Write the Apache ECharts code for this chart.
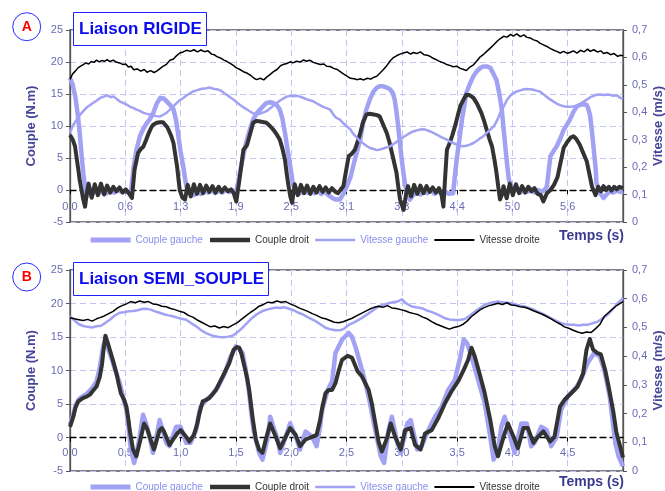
<!DOCTYPE html>
<html>
<head>
<meta charset="utf-8">
<script src="https://cdn.jsdelivr.net/npm/echarts@6/dist/echarts.min.js"></script>
<style>
html, body { margin: 0; padding: 0; background: #fff; }
#chart { width: 665px; height: 491px; }
</style>
</head>
<body>
<div id="chart"></div>
<script>
// séries : [temps (s), valeur]
var seriesNames = ['Couple gauche', 'Couple droit', 'Vitesse gauche', 'Vitesse droite'];
var titlesTxt = ['Liaison RIGIDE', 'Liaison SEMI_SOUPLE'];
var timeMaxA = 6.25, timeStepA = 0.625;
var timeMaxB = 5, timeStepB = 0.5;

// --- Liaison RIGIDE ---
var coupleGaucheA = [[0,17.5],[0.03,16.5],[0.06,14.6],[0.09,11.5],[0.11,8.9],[0.13,5.5],[0.15,2.7],[0.17,0.5],[0.19,-1.0],[0.22,-0.3],[0.26,-0.6],[0.3,0.2],[0.34,-0.4],[0.38,0.1],[0.42,-0.5],[0.46,0],[0.5,-0.4],[0.54,0.1],[0.58,-0.3],[0.62,-0.1],[0.66,-0.4],[0.69,-0.2],[0.72,3.7],[0.75,6.2],[0.79,8.4],[0.83,9.6],[0.87,10.5],[0.9,11],[0.94,12],[0.98,13.5],[1.02,14.4],[1.06,14.3],[1.09,13.9],[1.13,13.3],[1.17,12.6],[1.2,10.8],[1.22,8.9],[1.25,6],[1.28,3.7],[1.3,1.8],[1.32,0.3],[1.36,-0.5],[1.4,-0.8],[1.44,-0.2],[1.48,-0.6],[1.52,0.1],[1.56,-0.4],[1.6,0],[1.64,-0.5],[1.68,-0.1],[1.72,-0.4],[1.76,0],[1.8,-0.3],[1.84,-0.1],[1.88,-0.2],[1.92,2.7],[1.96,5.5],[2.0,7.9],[2.04,9.8],[2.07,11],[2.11,12],[2.15,12.6],[2.19,13.2],[2.22,13.6],[2.26,13.7],[2.3,13.6],[2.34,13.2],[2.37,12.6],[2.4,11.2],[2.43,8.9],[2.46,6.2],[2.49,3.7],[2.52,0.8],[2.56,-0.3],[2.6,-0.5],[2.64,0.2],[2.68,-0.4],[2.72,0],[2.76,-0.5],[2.8,-0.1],[2.84,-0.6],[2.88,-0.2],[2.92,-0.8],[2.96,-1.2],[3.0,-1.5],[3.05,-1.5],[3.09,-0.6],[3.13,0.6],[3.17,2.0],[3.2,3.7],[3.24,5.8],[3.28,7.9],[3.31,10.3],[3.35,12.6],[3.39,14.2],[3.43,15.4],[3.47,16],[3.5,16.2],[3.54,16.2],[3.58,16],[3.62,15.7],[3.65,15.1],[3.67,14.1],[3.69,12.2],[3.71,9.9],[3.73,7.2],[3.75,4.7],[3.77,2.5],[3.79,0.6],[3.84,-1.5],[3.88,-0.8],[3.92,-0.2],[3.96,-0.7],[4.0,-0.1],[4.04,-0.5],[4.08,0],[4.12,-0.6],[4.16,-0.2],[4.2,-0.6],[4.24,-0.3],[4.28,-0.6],[4.33,-0.5],[4.35,2.2],[4.37,4.7],[4.4,7.8],[4.43,11],[4.46,13.4],[4.48,15.2],[4.52,16.6],[4.56,17.8],[4.6,18.6],[4.64,19.1],[4.67,19.3],[4.71,19.3],[4.75,19.1],[4.78,18.3],[4.82,17.2],[4.85,15.2],[4.88,12.6],[4.9,9.6],[4.92,6.8],[4.94,4.0],[4.96,1.6],[5.01,-0.2],[5.05,0.2],[5.09,-0.4],[5.13,0.1],[5.17,-0.3],[5.21,0.2],[5.25,-0.4],[5.29,0],[5.33,-0.3],[5.37,0.1],[5.39,0.6],[5.41,3],[5.43,5.3],[5.47,6.2],[5.5,6.8],[5.54,8],[5.58,9.4],[5.62,10.3],[5.65,11],[5.69,12.2],[5.73,13.1],[5.77,13.3],[5.81,13.4],[5.84,13.3],[5.86,12.6],[5.88,11.5],[5.9,9],[5.92,6.3],[5.94,3.5],[5.95,1.1],[5.99,-0.5],[6.03,-1.25],[6.07,-0.6],[6.1,-0.2],[6.14,-0.4],[6.18,-0.1],[6.22,-0.3],[6.25,-0.2]];

var coupleDroitA = [[0,8.6],[0.03,7.9],[0.057,6.8],[0.075,5],[0.094,3.2],[0.11,1.5],[0.13,0],[0.15,-1.5],[0.17,-2.6],[0.19,-0.5],[0.21,1.0],[0.245,-1.2],[0.28,0.9],[0.315,-0.8],[0.35,1.0],[0.385,-0.7],[0.42,0.7],[0.455,-0.4],[0.49,0.5],[0.525,-0.2],[0.56,0.4],[0.595,-0.4],[0.63,0.1],[0.67,-0.6],[0.7,-1.25],[0.73,3.2],[0.77,5.8],[0.8,6.4],[0.83,6.8],[0.86,7.8],[0.89,8.9],[0.92,9.8],[0.94,10.2],[0.98,10.5],[1.02,10.6],[1.05,10.6],[1.07,10.5],[1.1,9.8],[1.13,8.9],[1.15,8.2],[1.17,7.3],[1.19,5.5],[1.21,3.7],[1.24,0],[1.27,-1.2],[1.3,-1.5],[1.33,0.8],[1.365,-1.0],[1.4,0.9],[1.435,-0.6],[1.47,0.8],[1.505,-0.5],[1.54,0.7],[1.575,-0.3],[1.61,0.6],[1.645,-0.4],[1.68,0.5],[1.715,-0.3],[1.75,0.4],[1.785,-0.2],[1.82,0.1],[1.85,-0.5],[1.88,-1.8],[1.92,2.1],[1.96,6.3],[2.0,7],[2.02,7.3],[2.05,9.5],[2.07,10.5],[2.11,10.8],[2.15,10.7],[2.19,10.6],[2.22,10.5],[2.26,10],[2.3,9.4],[2.34,8.6],[2.37,7.9],[2.4,6.5],[2.43,4.7],[2.45,2.5],[2.47,0.6],[2.49,-1],[2.51,-2],[2.54,0.9],[2.575,-0.8],[2.61,0.8],[2.645,-0.5],[2.68,0.7],[2.715,-0.6],[2.75,0.5],[2.785,-0.4],[2.82,0.6],[2.855,-0.3],[2.89,0.4],[2.925,-0.4],[2.96,0.3],[3.0,-0.3],[3.03,-0.5],[3.06,0.1],[3.09,0.6],[3.12,3],[3.15,5.3],[3.18,5.6],[3.22,6.3],[3.25,7.5],[3.28,8.9],[3.31,10.5],[3.35,11.8],[3.39,11.9],[3.43,11.8],[3.47,11.7],[3.5,11.5],[3.54,10.2],[3.58,8.9],[3.61,7.5],[3.63,6.3],[3.66,4.5],[3.69,2.7],[3.71,0.5],[3.73,-1.5],[3.77,-3.1],[3.8,-0.5],[3.82,0.6],[3.855,-1.0],[3.89,0.8],[3.925,-0.6],[3.96,0.7],[3.995,-0.5],[4.03,0.6],[4.065,-0.3],[4.1,0.4],[4.135,-0.4],[4.17,0.3],[4.2,-0.8],[4.22,-2.6],[4.24,2],[4.26,6.3],[4.29,7.3],[4.32,8.5],[4.35,9.9],[4.38,11.5],[4.41,13.1],[4.45,14.2],[4.48,14.9],[4.52,14.8],[4.56,14.4],[4.6,13.5],[4.65,12],[4.68,10.8],[4.71,9.4],[4.74,8],[4.77,6.8],[4.8,4.5],[4.82,2.7],[4.84,0.5],[4.86,-1.5],[4.88,-0.8],[4.9,0.6],[4.935,-1.3],[4.97,1.0],[5.005,-0.8],[5.04,0.9],[5.075,-0.5],[5.11,0.6],[5.145,-0.4],[5.18,0.5],[5.215,-0.2],[5.25,0.3],[5.285,-0.6],[5.32,-0.8],[5.35,-1.8],[5.39,-0.5],[5.43,0],[5.47,0.8],[5.51,2],[5.54,4],[5.58,6.6],[5.62,7.5],[5.66,8.2],[5.69,8.4],[5.72,8],[5.76,7.1],[5.8,5.8],[5.84,4.5],[5.87,2.5],[5.9,0.5],[5.94,-0.8],[5.97,0.5],[6.0,-0.2],[6.03,0.6],[6.06,0],[6.09,0.5],[6.12,-0.1],[6.15,0.5],[6.18,0.1],[6.21,0.5],[6.25,0.3]];

var vitesseGaucheA = [[0,.324],[.03,.35],[.075,.373],[.11,.39],[.15,.404],[.19,.418],[.22,.425],[.26,.434],[.3,.442],[.34,.452],[.38,.457],[.42,.462],[.46,.455],[.49,.458],[.53,.448],[.56,.44],[.6,.434],[.64,.428],[.68,.42],[.72,.415],[.75,.41],[.79,.405],[.83,.398],[.86,.395],[.9,.392],[.94,.388],[.98,.386],[1.02,.385],[1.06,.392],[1.09,.398],[1.13,.41],[1.17,.422],[1.21,.435],[1.24,.444],[1.28,.452],[1.32,.462],[1.36,.47],[1.39,.476],[1.43,.48],[1.47,.484],[1.51,.487],[1.54,.488],[1.58,.49],[1.62,.486],[1.66,.484],[1.7,.48],[1.74,.47],[1.78,.462],[1.81,.455],[1.85,.446],[1.89,.435],[1.93,.425],[1.96,.418],[2,.41],[2.04,.402],[2.07,.396],[2.11,.392],[2.15,.395],[2.19,.4],[2.22,.404],[2.26,.414],[2.3,.425],[2.34,.434],[2.37,.442],[2.41,.45],[2.45,.457],[2.49,.46],[2.52,.458],[2.56,.46],[2.6,.457],[2.64,.452],[2.67,.448],[2.71,.444],[2.75,.44],[2.79,.432],[2.83,.425],[2.86,.42],[2.9,.415],[2.94,.41],[2.98,.39],[3.01,.38],[3.05,.373],[3.09,.36],[3.13,.348],[3.17,.337],[3.2,.322],[3.24,.308],[3.28,.294],[3.32,.285],[3.35,.278],[3.39,.27],[3.43,.266],[3.47,.262],[3.5,.264],[3.54,.268],[3.58,.272],[3.62,.276],[3.66,.285],[3.69,.292],[3.73,.3],[3.77,.31],[3.81,.318],[3.84,.324],[3.88,.33],[3.92,.334],[3.96,.337],[4,.338],[4.04,.334],[4.07,.33],[4.11,.324],[4.15,.318],[4.18,.312],[4.22,.306],[4.26,.3],[4.29,.294],[4.33,.288],[4.37,.282],[4.4,.278],[4.44,.276],[4.48,.278],[4.52,.282],[4.56,.288],[4.6,.296],[4.63,.304],[4.67,.312],[4.71,.325],[4.75,.337],[4.79,.349],[4.83,.372],[4.86,.397],[4.9,.42],[4.94,.446],[4.98,.462],[5.01,.47],[5.05,.476],[5.09,.48],[5.13,.484],[5.16,.485],[5.2,.484],[5.24,.482],[5.28,.478],[5.31,.476],[5.35,.466],[5.39,.456],[5.43,.446],[5.47,.438],[5.5,.432],[5.54,.426],[5.58,.422],[5.62,.42],[5.66,.42],[5.7,.422],[5.73,.422],[5.77,.432],[5.81,.44],[5.84,.446],[5.88,.455],[5.92,.46],[5.95,.464],[5.99,.465],[6.03,.463],[6.07,.465],[6.1,.464],[6.14,.46],[6.18,.462],[6.22,.452],[6.25,.45]];

var vitesseDroiteA = [[0,.52],[.03,.54],[.06,.55],[.09,.562],[.12,.568],[.15,.574],[.18,.58],[.21,.576],[.24,.585],[.27,.582],[.3,.59],[.33,.584],[.36,.589],[.39,.586],[.42,.592],[.45,.585],[.49,.59],[.52,.583],[.56,.58],[.6,.574],[.63,.576],[.66,.565],[.69,.568],[.72,.555],[.76,.558],[.8,.55],[.84,.556],[.87,.546],[.91,.552],[.95,.545],[.98,.55],[1.02,.56],[1.05,.567],[1.09,.575],[1.13,.59],[1.17,.594],[1.2,.605],[1.24,.616],[1.28,.62],[1.32,.626],[1.36,.622],[1.4,.628],[1.44,.62],[1.48,.627],[1.52,.621],[1.56,.624],[1.6,.612],[1.63,.61],[1.66,.603],[1.7,.598],[1.74,.59],[1.77,.586],[1.81,.578],[1.85,.57],[1.88,.562],[1.92,.556],[1.96,.548],[2,.543],[2.04,.535],[2.08,.524],[2.11,.519],[2.15,.524],[2.19,.518],[2.23,.53],[2.27,.54],[2.3,.548],[2.34,.556],[2.38,.57],[2.41,.574],[2.45,.578],[2.49,.584],[2.52,.58],[2.56,.586],[2.6,.583],[2.64,.591],[2.67,.586],[2.71,.59],[2.75,.582],[2.79,.578],[2.83,.574],[2.87,.576],[2.9,.568],[2.94,.567],[2.98,.56],[3.02,.556],[3.05,.549],[3.09,.54],[3.13,.532],[3.17,.524],[3.21,.522],[3.25,.519],[3.28,.522],[3.32,.518],[3.36,.524],[3.4,.521],[3.43,.527],[3.47,.532],[3.51,.545],[3.54,.555],[3.58,.57],[3.62,.588],[3.65,.598],[3.69,.606],[3.73,.612],[3.77,.616],[3.81,.62],[3.85,.612],[3.88,.618],[3.92,.614],[3.96,.62],[4,.61],[4.04,.608],[4.07,.604],[4.11,.596],[4.15,.59],[4.18,.585],[4.22,.58],[4.26,.574],[4.3,.57],[4.33,.566],[4.37,.568],[4.41,.56],[4.45,.556],[4.48,.552],[4.52,.565],[4.56,.573],[4.6,.588],[4.63,.6],[4.67,.61],[4.71,.622],[4.75,.634],[4.79,.646],[4.83,.66],[4.86,.668],[4.9,.677],[4.94,.674],[4.98,.684],[5.01,.678],[5.05,.686],[5.09,.676],[5.13,.682],[5.16,.674],[5.2,.671],[5.24,.664],[5.28,.66],[5.31,.652],[5.35,.646],[5.39,.64],[5.43,.632],[5.47,.626],[5.5,.622],[5.54,.616],[5.58,.622],[5.62,.615],[5.65,.618],[5.69,.624],[5.73,.616],[5.77,.626],[5.81,.62],[5.85,.63],[5.88,.622],[5.92,.628],[5.96,.62],[6,.624],[6.03,.614],[6.07,.618],[6.11,.61],[6.15,.614],[6.19,.604],[6.22,.608],[6.25,.606]];

// --- Liaison SEMI_SOUPLE ---
var coupleGaucheB = [[0,1.9],[0.03,3.4],[0.05,4.8],[0.075,5.6],[0.1,6],[0.12,6.2],[0.15,6.5],[0.18,7],[0.21,7.6],[0.24,8.4],[0.27,10.5],[0.3,13.6],[0.32,14.6],[0.35,13],[0.37,12.1],[0.41,10],[0.45,8.1],[0.48,6],[0.51,4.1],[0.53,1.5],[0.55,-1.8],[0.58,-3.8],[0.6,-2.5],[0.63,0.1],[0.66,3.4],[0.69,2],[0.72,0.1],[0.75,-2.3],[0.78,0],[0.81,2.6],[0.84,1],[0.87,-0.8],[0.9,-1.3],[0.93,0.2],[0.96,1.6],[1.0,1.6],[1.05,-0.8],[1.09,-0.8],[1.14,1.1],[1.16,3],[1.18,4.6],[1.23,5.6],[1.28,6.3],[1.34,7.6],[1.4,9.6],[1.45,12],[1.5,13.6],[1.53,13.3],[1.56,12.6],[1.59,10],[1.62,6.6],[1.64,3.5],[1.66,1.1],[1.71,-2.3],[1.74,-3.3],[1.79,0.1],[1.81,3.1],[1.85,1],[1.88,-0.3],[1.9,-2.3],[1.95,0.1],[1.99,2.1],[2.05,-0.3],[2.08,-1.8],[2.13,0.9],[2.19,0.1],[2.23,-1.3],[2.26,1.5],[2.28,4.1],[2.33,7.1],[2.37,8.4],[2.4,12.6],[2.46,14.6],[2.52,15.6],[2.55,15],[2.58,13.6],[2.64,10.1],[2.7,6.1],[2.76,1.1],[2.81,-2.8],[2.84,-3.8],[2.88,1.1],[2.91,3.1],[2.96,-0.8],[2.99,-2.3],[3.05,2.1],[3.08,2.6],[3.14,-1.8],[3.18,-1.3],[3.24,1.1],[3.3,3.1],[3.36,4.6],[3.42,7.1],[3.48,8.6],[3.53,12.1],[3.56,14.6],[3.59,14.1],[3.63,12.1],[3.69,8.6],[3.75,5.1],[3.8,0.1],[3.83,-3.3],[3.87,-1.8],[3.9,1.6],[3.93,3.1],[3.98,0.1],[4.02,-2.3],[4.08,2.1],[4.13,2.1],[4.17,-1.3],[4.2,-0.8],[4.26,1.6],[4.31,1.1],[4.35,-1.3],[4.4,0.1],[4.44,4.1],[4.5,6.1],[4.56,7.1],[4.62,8.6],[4.68,11.1],[4.74,12.6],[4.79,12.1],[4.83,10.1],[4.88,6.1],[4.93,-0.8],[4.96,-2.8],[5.0,-4.3]];

var coupleDroitB = [[0,1.6],[0.03,3.1],[0.05,4.5],[0.075,5.4],[0.1,5.7],[0.12,5.9],[0.15,6.1],[0.18,6.4],[0.21,7],[0.24,7.6],[0.27,9.1],[0.29,11],[0.3,12.6],[0.32,15.2],[0.34,14.2],[0.36,13.1],[0.39,11.4],[0.42,9.6],[0.44,8],[0.46,6.6],[0.49,5.6],[0.51,4.6],[0.53,2.5],[0.54,1.1],[0.57,-1.8],[0.6,-2.8],[0.63,-0.8],[0.67,2.1],[0.7,1.2],[0.72,0.1],[0.76,-1.8],[0.81,1.1],[0.83,1.4],[0.85,0.9],[0.9,-1.1],[0.94,-0.1],[0.97,0.6],[1.0,1.1],[1.05,0.1],[1.08,-0.6],[1.12,0.4],[1.15,2],[1.17,3.6],[1.2,5.4],[1.23,5.6],[1.26,5.9],[1.32,7.1],[1.38,9.1],[1.44,11.1],[1.48,13.1],[1.51,13.5],[1.53,13.4],[1.55,12.5],[1.57,11.1],[1.6,9],[1.62,7.1],[1.65,3.1],[1.68,-0.3],[1.71,-1.8],[1.74,-2.3],[1.77,-0.3],[1.81,2.1],[1.86,0.1],[1.9,-1.6],[1.95,0.1],[1.99,1.4],[2.04,0.4],[2.08,-1.3],[2.13,-0.3],[2.19,0.1],[2.23,0.4],[2.26,2.5],[2.28,4.4],[2.31,6.6],[2.34,7.1],[2.37,7.1],[2.4,8.1],[2.43,10],[2.46,11.6],[2.51,12.2],[2.55,11.9],[2.6,9.9],[2.64,9.1],[2.7,7.1],[2.73,5],[2.75,3.1],[2.79,-0.6],[2.82,-2.1],[2.87,0.1],[2.9,2.1],[2.94,0.1],[2.99,-1.8],[3.03,1.1],[3.08,1.4],[3.12,-1.1],[3.17,-1.8],[3.21,0.6],[3.27,1.1],[3.33,2.9],[3.39,5.1],[3.45,6.9],[3.51,8.4],[3.56,10.1],[3.6,11.6],[3.63,13.4],[3.66,12.1],[3.71,9.1],[3.75,6.6],[3.8,2.6],[3.84,-1.3],[3.87,-2.8],[3.92,0.1],[3.96,2.1],[4.01,0.1],[4.05,-1.6],[4.1,1.4],[4.14,1.4],[4.19,-0.8],[4.23,0.1],[4.28,0.9],[4.34,-0.6],[4.38,0.1],[4.43,4.6],[4.47,5.6],[4.53,6.6],[4.59,7.6],[4.64,9.6],[4.67,13.1],[4.7,14.7],[4.73,13.1],[4.77,12.6],[4.8,12.4],[4.84,10],[4.87,7.6],[4.91,4.1],[4.94,0.8],[4.97,-1.1],[5.0,-3]];

var vitesseGaucheB = [[0,.539],[.04,.525],[.08,.511],[.12,.505],[.16,.502],[.2,.5],[.24,.504],[.28,.506],[.32,.516],[.36,.527],[.4,.54],[.45,.551],[.49,.553],[.53,.556],[.57,.557],[.61,.56],[.65,.564],[.69,.565],[.73,.562],[.77,.556],[.81,.551],[.85,.546],[.89,.542],[.93,.539],[.97,.534],[1.01,.53],[1.05,.527],[1.09,.516],[1.14,.504],[1.18,.492],[1.23,.48],[1.27,.474],[1.31,.469],[1.35,.467],[1.39,.466],[1.43,.468],[1.47,.471],[1.51,.482],[1.56,.499],[1.6,.515],[1.65,.534],[1.69,.546],[1.74,.557],[1.78,.562],[1.82,.566],[1.86,.569],[1.9,.568],[1.94,.57],[1.98,.565],[2.02,.56],[2.06,.552],[2.1,.546],[2.14,.538],[2.18,.53],[2.22,.522],[2.26,.512],[2.31,.499],[2.35,.494],[2.4,.49],[2.44,.49],[2.48,.496],[2.52,.509],[2.56,.516],[2.61,.526],[2.65,.536],[2.7,.549],[2.74,.56],[2.79,.573],[2.83,.578],[2.88,.584],[2.92,.588],[2.96,.59],[3,.598],[3.04,.584],[3.09,.573],[3.13,.57],[3.18,.567],[3.22,.56],[3.26,.555],[3.3,.549],[3.35,.54],[3.39,.532],[3.43,.528],[3.48,.526],[3.52,.526],[3.57,.529],[3.61,.54],[3.66,.555],[3.7,.566],[3.75,.579],[3.79,.584],[3.83,.588],[3.87,.59],[3.91,.588],[3.95,.586],[3.99,.584],[4.03,.58],[4.07,.576],[4.11,.573],[4.15,.568],[4.19,.562],[4.23,.555],[4.27,.548],[4.31,.54],[4.35,.532],[4.4,.522],[4.44,.515],[4.48,.511],[4.52,.509],[4.56,.509],[4.6,.507],[4.64,.509],[4.68,.509],[4.72,.514],[4.77,.52],[4.81,.53],[4.86,.544],[4.9,.56],[4.95,.584],[5,.602]];

var vitesseDroiteB = [[0,.534],[.04,.53],[.08,.527],[.12,.524],[.16,.528],[.2,.522],[.24,.53],[.27,.534],[.31,.54],[.35,.548],[.39,.556],[.43,.568],[.47,.576],[.51,.582],[.55,.59],[.59,.586],[.63,.592],[.67,.588],[.71,.59],[.75,.582],[.79,.58],[.83,.574],[.87,.572],[.91,.566],[.95,.562],[.99,.556],[1.03,.552],[1.07,.542],[1.11,.536],[1.15,.526],[1.19,.518],[1.23,.51],[1.27,.502],[1.31,.505],[1.35,.498],[1.39,.503],[1.43,.499],[1.47,.508],[1.51,.516],[1.55,.528],[1.59,.54],[1.63,.552],[1.67,.562],[1.71,.574],[1.75,.58],[1.79,.588],[1.83,.586],[1.87,.592],[1.91,.588],[1.95,.59],[1.99,.582],[2.03,.576],[2.07,.568],[2.11,.562],[2.15,.556],[2.19,.548],[2.23,.542],[2.27,.534],[2.31,.53],[2.35,.524],[2.39,.518],[2.43,.516],[2.47,.52],[2.51,.526],[2.55,.532],[2.59,.54],[2.63,.548],[2.67,.556],[2.71,.564],[2.75,.57],[2.79,.574],[2.83,.57],[2.87,.576],[2.91,.568],[2.95,.566],[2.99,.562],[3.03,.558],[3.07,.552],[3.11,.548],[3.15,.544],[3.19,.536],[3.23,.53],[3.27,.52],[3.31,.512],[3.35,.506],[3.39,.5],[3.43,.494],[3.47,.5],[3.51,.503],[3.55,.51],[3.59,.522],[3.63,.538],[3.67,.55],[3.71,.562],[3.75,.57],[3.79,.576],[3.83,.58],[3.87,.584],[3.91,.58],[3.95,.586],[3.99,.578],[4.03,.576],[4.07,.572],[4.11,.57],[4.15,.565],[4.19,.558],[4.23,.552],[4.27,.546],[4.31,.538],[4.35,.53],[4.39,.52],[4.43,.512],[4.47,.502],[4.51,.497],[4.55,.49],[4.59,.484],[4.63,.48],[4.67,.484],[4.71,.482],[4.75,.495],[4.79,.51],[4.83,.538],[4.87,.552],[4.91,.566],[4.95,.578],[5,.59]];

var LIGHT = '#a2a2f4';
var DARK = '#333333';
var FONT = 'Liberation Sans, Arial, sans-serif';
var AXIS_TXT = '#6a6ab4';
var NAME_TXT = '#44449a';
var GRID_LINE = '#c4c4f2';

function fmtComma(v) {
    if (v === 0) return '0';
    return v.toFixed(1).replace('.', ',');
}

// labels sit just under the zero line (negative margin from the bottom edge)
function makeX(gi, max, step, labelMargin) {
    return {
        gridIndex: gi, type: 'value', min: 0, max: max, interval: step,
        axisLine: { show: true, onZero: true, onZeroAxisIndex: gi * 2,
            lineStyle: { color: '#000', width: 1.3, type: [6, 4] } },
        axisTick: { show: true, length: 4, lineStyle: { color: '#000' } },
        axisLabel: { color: AXIS_TXT, fontSize: 11, fontFamily: FONT, margin: labelMargin, showMaxLabel: false,
            formatter: function (v) { return v.toFixed(1).replace('.', ','); } },
        splitLine: { show: true, lineStyle: { color: GRID_LINE, type: [6, 4] } }
    };
}

function makeYLeft(gi) {
    return {
        gridIndex: gi, type: 'value', position: 'left', min: -5, max: 25, interval: 5,
        name: 'Couple (N.m)', nameLocation: 'middle', nameGap: 32,
        nameTextStyle: { color: NAME_TXT, fontWeight: 'bold', fontSize: 13, fontFamily: FONT },
        axisLine: { show: true, lineStyle: { color: '#555', width: 1.3 } },
        axisTick: { show: true, length: 4, lineStyle: { color: '#555' } },
        axisLabel: { color: AXIS_TXT, fontSize: 11, fontFamily: FONT, margin: 7 },
        splitLine: { show: true, lineStyle: { color: GRID_LINE, type: [6, 4] } }
    };
}

function makeYRight(gi) {
    return {
        gridIndex: gi, type: 'value', position: 'right', min: 0, max: 0.7, interval: 0.1,
        name: 'Vitesse (m/s)', nameLocation: 'middle', nameGap: 29, nameMoveOverlap: false,
        nameTextStyle: { color: NAME_TXT, fontWeight: 'bold', fontSize: 13, fontFamily: FONT },
        axisLine: { show: true, lineStyle: { color: '#555', width: 1.3 } },
        axisTick: { show: true, length: 4, lineStyle: { color: '#555' } },
        axisLabel: { color: AXIS_TXT, fontSize: 11, fontFamily: FONT, margin: 9, formatter: fmtComma },
        splitLine: { show: false }
    };
}

function makeSeries(gi, cg, cd, vg, vd) {
    var base = { type: 'line', symbol: 'none', showSymbol: false, xAxisIndex: gi, animation: false };
    return [
        Object.assign({}, base, { name: seriesNames[0], yAxisIndex: gi * 2, data: cg, color: LIGHT,
            lineStyle: { color: LIGHT, width: 4.5, join: 'round' } }),
        Object.assign({}, base, { name: seriesNames[1], yAxisIndex: gi * 2, data: cd, color: DARK,
            lineStyle: { color: DARK, width: 4, join: 'round' } }),
        Object.assign({}, base, { name: seriesNames[2], yAxisIndex: gi * 2 + 1, data: vg, color: LIGHT,
            lineStyle: { color: LIGHT, width: 2.5 } }),
        Object.assign({}, base, { name: seriesNames[3], yAxisIndex: gi * 2 + 1, data: vd, color: '#000',
            lineStyle: { color: '#000', width: 1.5 } })
    ];
}

function makeLegend(top) {
    return {
        left: 83, top: top, itemWidth: 40, itemHeight: 10, itemGap: 5,
        selectedMode: false,
        itemStyle: { opacity: 0 },
        textStyle: { fontSize: 10, fontFamily: FONT },
        data: [
            { name: seriesNames[0], textStyle: { color: '#8c8cee' }, lineStyle: { width: 5 } },
            { name: seriesNames[1], textStyle: { color: '#333' }, lineStyle: { width: 4.5 } },
            { name: seriesNames[2], textStyle: { color: '#8c8cee' }, lineStyle: { width: 2.5 } },
            { name: seriesNames[3], textStyle: { color: '#333' }, lineStyle: { width: 2 } }
        ]
    };
}

function makeTitle(txt, top) {
    return {
        text: txt, left: 73, top: top,
        backgroundColor: '#fff', borderColor: '#2020ff', borderWidth: 1,
        padding: [7, 5, 7, 6],
        textStyle: { color: '#0a0aee', fontSize: 17, fontWeight: 'bold', fontFamily: FONT, lineHeight: 20 }
    };
}

function badge(letter, cy) {
    return [
        { type: 'circle', shape: { cx: 26.7, cy: cy, r: 14 }, style: { fill: '#fff', stroke: '#2a2aff', lineWidth: 1 } },
        { type: 'text', x: 26.7, y: cy, style: { text: letter, fill: '#ff0000', fontSize: 14, fontWeight: 'bold',
            fontFamily: FONT, align: 'center', verticalAlign: 'middle' } }
    ];
}

function tempsLabel(cy) {
    return { type: 'text', x: 624, y: cy, style: { text: 'Temps (s)', fill: '#3a3a90', fontSize: 14, fontWeight: 'bold',
        fontFamily: FONT, align: 'right', verticalAlign: 'middle' } };
}

var gridBase = { left: 70, width: 553, show: true, borderColor: '#555', borderWidth: 1.3,
    backgroundColor: 'transparent', containLabel: false, outerBoundsMode: 'none' };

var chart = echarts.init(document.getElementById('chart'));
chart.setOption({
    animation: false,
    backgroundColor: '#fff',
    title: [makeTitle(titlesTxt[0], 12), makeTitle(titlesTxt[1], 262)],
    legend: [makeLegend(230), makeLegend(477)],
    grid: [
        Object.assign({}, gridBase, { top: 30, height: 192 }),
        Object.assign({}, gridBase, { top: 270, height: 201 })
    ],
    xAxis: [makeX(0, timeMaxA, timeStepA, -21), makeX(1, timeMaxB, timeStepB, -24)],
    yAxis: [makeYLeft(0), makeYRight(0), makeYLeft(1), makeYRight(1)],
    series: makeSeries(0, coupleGaucheA, coupleDroitA, vitesseGaucheA, vitesseDroiteA)
        .concat(makeSeries(1, coupleGaucheB, coupleDroitB, vitesseGaucheB, vitesseDroiteB)),
    graphic: [].concat(badge('A', 26.7), badge('B', 277), [tempsLabel(236), tempsLabel(482)])
});

window.onresize = function () {
    chart.resize();
};
</script>
</body>
</html>
